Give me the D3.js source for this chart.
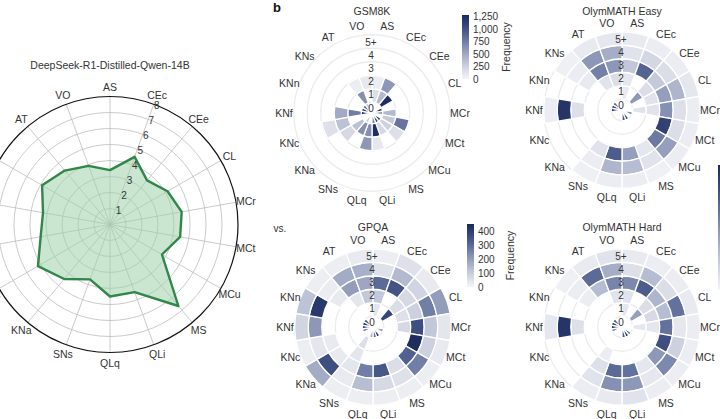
<!DOCTYPE html>
<html>
<head>
<meta charset="utf-8">
<script src="https://cdn.jsdelivr.net/npm/d3@7"></script>
<style>
  body { margin: 0; background: #fff; }
  svg { display: block; font-family: "Liberation Sans", Arial, sans-serif; }
</style>
</head>
<body>
<svg id="chart" width="720" height="419"></svg>
<script>
// categories, clockwise from the top
var sectors = ["AS", "CEc", "CEe", "CL", "MCr", "MCt", "MCu", "MS", "QLi", "QLq",
               "SNs", "KNa", "KNc", "KNf", "KNn", "KNs", "AT", "VO"];

// panel a: radar
var radarTitle = "DeepSeek-R1-Distilled-Qwen-14B";
var radarValues = [3.4, 4.5, 3.6, 4.15, 4.55, 4.45, 3.75, 6.65, 4.5, 4.5,
                   3.65, 4.45, 5.2, 4.4, 4.25, 4.9, 4.4, 3.9];
var radarTicks = [1, 2, 3, 4, 5, 6, 7, 8];

// panel b: frequency per ring (0, 1, 2, 3, 4, 5+) and sector
var ringLabels = ["0", "1", "2", "3", "4", "5+"];

var gsm8k = [
  [0, 0, 0, 1150, 600, 0, 1150, 1100, 700, 0, 300, 0, 0, 1250, 1100, 900, 300, 0],
  [150, 400, 1250, 0, 400, 300, 250, 200, 1250, 650, 650, 350, 0, 750, 0, 0, 650, 0],
  [60, 600, 0, 0, 0, 800, 150, 0, 100, 600, 0, 200, 350, 500, 0, 0, 60, 100],
  [0, 0, 0, 0, 0, 0, 0, 0, 0, 0, 0, 0, 150, 0, 0, 0, 0, 0],
  [0, 0, 0, 0, 0, 0, 0, 0, 0, 0, 0, 0, 0, 0, 0, 0, 0, 0],
  [0, 0, 0, 0, 0, 0, 0, 0, 0, 0, 0, 0, 0, 0, 0, 0, 0, 0]
];

var gpqa = [
  [0, 0, 0, 0, 0, 200, 0, 430, 300, 150, 0, 0, 250, 380, 430, 350, 0, 0],
  [40, 0, 380, 0, 0, 0, 0, 0, 0, 0, 60, 0, 0, 0, 0, 0, 0, 0],
  [110, 0, 60, 50, 70, 0, 0, 0, 0, 0, 40, 0, 0, 0, 0, 0, 40, 110],
  [300, 350, 70, 90, 360, 440, 320, 60, 340, 260, 40, 30, 30, 0, 0, 30, 200, 180],
  [50, 140, 80, 260, 110, 90, 260, 50, 70, 130, 30, 360, 40, 210, 410, 25, 170, 160],
  [20, 50, 30, 200, 40, 30, 20, 20, 20, 20, 20, 170, 20, 80, 120, 20, 20, 30]
];

var olymEasy = [
  [0, 0, 0, 0, 0, 30, 0, 50, 45, 0, 0, 0, 0, 55, 50, 40, 0, 0],
  [4, 0, 28, 0, 6, 0, 0, 0, 0, 0, 0, 0, 0, 0, 0, 0, 0, 0],
  [5, 0, 8, 6, 6, 0, 0, 0, 0, 0, 0, 0, 0, 0, 0, 0, 6, 8],
  [15, 42, 14, 26, 30, 52, 36, 5, 26, 44, 6, 0, 0, 7, 0, 4, 34, 28],
  [6, 10, 8, 20, 7, 8, 26, 6, 18, 20, 3, 0, 0, 56, 0, 3, 28, 22],
  [4, 3, 3, 5, 3, 3, 3, 2, 3, 3, 2, 0, 0, 3, 0, 2, 4, 5]
];

var olymHard = [
  [0, 0, 0, 0, 0, 0, 35, 55, 45, 0, 0, 0, 30, 55, 50, 45, 0, 0],
  [5, 0, 26, 0, 5, 0, 0, 0, 0, 0, 0, 0, 0, 0, 0, 0, 0, 0],
  [6, 0, 8, 9, 5, 0, 0, 0, 0, 0, 3, 0, 0, 0, 0, 0, 0, 6],
  [32, 44, 20, 18, 38, 48, 28, 5, 38, 40, 7, 0, 0, 7, 0, 3, 18, 33],
  [7, 18, 8, 38, 5, 12, 32, 5, 28, 30, 6, 0, 0, 56, 0, 3, 40, 22],
  [4, 3, 3, 4, 3, 3, 3, 3, 6, 4, 3, 0, 0, 5, 0, 2, 4, 6]
];

var gsm8kTicks = [0, 250, 500, 750, 1000, 1250];
var gpqaTicks = [0, 100, 200, 300, 400];

var svg = d3.select("#chart");
var ink = "#333";
var step = 2 * Math.PI / sectors.length;

// ---------- panel a ----------
var rc = { x: 110, y: 224.5 };
var r = d3.scaleLinear().domain([0, 8]).range([0, 128]);
var ga = svg.append("g").attr("transform", "translate(" + rc.x + "," + rc.y + ")");

ga.selectAll("circle.grid")
  .data(radarTicks.slice(0, -1))
  .enter().append("circle")
  .attr("r", function (d) { return r(d); })
  .attr("fill", "none").attr("stroke", "#bdbdbd").attr("stroke-width", 0.8);

ga.selectAll("line.spoke")
  .data(sectors)
  .enter().append("line")
  .attr("x2", function (d, i) { return r(8) * Math.sin(i * step); })
  .attr("y2", function (d, i) { return -r(8) * Math.cos(i * step); })
  .attr("stroke", "#bdbdbd").attr("stroke-width", 0.8);

ga.append("circle").attr("r", r(8))
  .attr("fill", "none").attr("stroke", "#111").attr("stroke-width", 1.2);

ga.append("path")
  .datum(radarValues)
  .attr("d", d3.lineRadial()
    .angle(function (d, i) { return i * step; })
    .radius(function (d) { return r(d); })
    .curve(d3.curveLinearClosed))
  .attr("fill", "#9fd1a9").attr("fill-opacity", 0.55)
  .attr("stroke", "#2f8748").attr("stroke-width", 2.4)
  .attr("stroke-linejoin", "round");

ga.selectAll("text.tick")
  .data(radarTicks)
  .enter().append("text")
  .attr("x", function (d) { return r(d) * Math.sin(step) + 3; })
  .attr("y", function (d) { return -r(d) * Math.cos(step) + 1; })
  .attr("text-anchor", "middle").attr("dominant-baseline", "central")
  .attr("font-size", 10).attr("fill", ink)
  .text(function (d) { return d; });

ga.selectAll("text.cat")
  .data(sectors)
  .enter().append("text")
  .attr("x", function (d, i) { return 138 * Math.sin(i * step); })
  .attr("y", function (d, i) { return -138 * Math.cos(i * step); })
  .attr("text-anchor", "middle").attr("dominant-baseline", "central")
  .attr("font-size", 10.5).attr("fill", ink)
  .text(function (d) { return d; });

svg.append("text").attr("x", 110).attr("y", 65)
  .attr("text-anchor", "middle").attr("dominant-baseline", "central")
  .attr("font-size", 10.5).attr("fill", ink).text(radarTitle);

// ---------- panel b ----------
var palette = d3.interpolateRgbBasis(["#f6f6f8", "#c3c8d9", "#8590b3", "#45568a", "#19295a"]);
var ringPos = d3.scaleLinear().domain([0, 5]).range([4, 71.5]);
var half = 6.75;

function polarHeat(title, rows, cx, cy, titleY, max) {
  var color = d3.scaleSequential(palette).domain([0, max]);
  var g = svg.append("g").attr("transform", "translate(" + cx + "," + cy + ")");

  g.selectAll("circle.bg")
    .data(ringLabels)
    .enter().append("circle")
    .attr("r", function (d, k) { return ringPos(k) + half; })
    .attr("fill", "none").attr("stroke", "#ececec").attr("stroke-width", 1.3);

  var cells = [];
  rows.forEach(function (row, k) {
    row.forEach(function (v, i) { if (v > 0) cells.push({ k: k, i: i, v: v }); });
  });

  var arc = d3.arc()
    .innerRadius(function (d) { return d.k === 0 ? 0 : ringPos(d.k) - half; })
    .outerRadius(function (d) { return ringPos(d.k) + half; })
    .startAngle(function (d) { return d.i * step; })
    .endAngle(function (d) { return (d.i + 1) * step; });

  g.selectAll("path.cell")
    .data(cells)
    .enter().append("path")
    .attr("d", arc)
    .attr("fill", function (d) { return color(d.v); })
    .attr("stroke", "#fff").attr("stroke-width", 1.3);

  g.selectAll("text.ring")
    .data(ringLabels)
    .enter().append("text")
    .attr("x", -1)
    .attr("y", function (d, k) { return -(13.1 * k + 5); })
    .attr("text-anchor", "middle").attr("dominant-baseline", "central")
    .attr("font-size", 10).attr("fill", ink)
    .text(function (d) { return d; });

  g.selectAll("text.cat")
    .data(sectors)
    .enter().append("text")
    .attr("x", function (d, i) { return 88 * Math.sin((i + 0.5) * step); })
    .attr("y", function (d, i) { return -88 * Math.cos((i + 0.5) * step); })
    .attr("text-anchor", "middle").attr("dominant-baseline", "central")
    .attr("font-size", 10.5).attr("fill", ink)
    .text(function (d) { return d; });

  svg.append("text").attr("x", cx).attr("y", titleY)
    .attr("text-anchor", "middle").attr("dominant-baseline", "central")
    .attr("font-size", 10.5).attr("fill", ink).text(title);
}

polarHeat("GSM8K", gsm8k, 372, 113, 10.5, 1290);
polarHeat("OlymMATH Easy", olymEasy, 622, 110, 11, 60);
polarHeat("GPQA", gpqa, 373, 327, 227, 450);
polarHeat("OlymMATH Hard", olymHard, 622, 327, 227, 60);

function colorbar(id, x, y0, y1, max, ticks, fmt, labelX) {
  var color = d3.scaleSequential(palette).domain([0, max]);
  var y = d3.scaleLinear().domain([0, max]).range([y1, y0]);
  var grad = svg.append("defs").append("linearGradient")
    .attr("id", id).attr("x1", 0).attr("x2", 0).attr("y1", 1).attr("y2", 0);
  d3.range(0, 1.0001, 0.1).forEach(function (t) {
    grad.append("stop").attr("offset", t).attr("stop-color", color(t * max));
  });
  svg.append("rect").attr("x", x).attr("y", y0).attr("width", 7).attr("height", y1 - y0)
    .attr("fill", "url(#" + id + ")");
  svg.selectAll("text." + id)
    .data(ticks)
    .enter().append("text")
    .attr("x", x + 11).attr("y", function (d) { return y(d); })
    .attr("dominant-baseline", "central")
    .attr("font-size", 10).attr("fill", ink)
    .text(fmt);
  if (labelX) {
    svg.append("text")
      .attr("transform", "translate(" + labelX + "," + (y0 + y1) / 2 + ") rotate(-90)")
      .attr("text-anchor", "middle").attr("dominant-baseline", "central")
      .attr("font-size", 10.5).attr("fill", ink).text("Frequency");
  }
}

colorbar("cbGsm", 462, 15, 79, 1290, gsm8kTicks, d3.format(","), 506);
colorbar("cbGpqa", 467, 224, 287, 450, gpqaTicks, d3.format(","), 510);
colorbar("cbOlym", 718, 165, 290, 60, [], d3.format(","), null);

svg.append("text").attr("x", 273).attr("y", 12)
  .attr("font-size", 13).attr("font-weight", "bold").attr("fill", "#111").text("b");
svg.append("text").attr("x", 280).attr("y", 228)
  .attr("text-anchor", "middle").attr("dominant-baseline", "central")
  .attr("font-size", 10).attr("fill", ink).text("vs.");
</script>
</body>
</html>
